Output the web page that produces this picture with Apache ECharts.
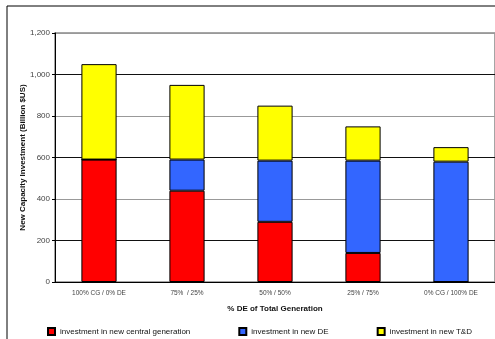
<!DOCTYPE html>
<html>
<head>
<meta charset="utf-8">
<script src="https://cdn.jsdelivr.net/npm/echarts@6/dist/echarts.min.js"></script>
<style>
  html, body { margin: 0; padding: 0; background: #fff; }
  #chart { width: 495px; height: 339px; }
</style>
</head>
<body>
<div id="chart"></div>
<script>
// 分类与数据
const categories = ['100% CG / 0% DE', '75%  / 25%', '50% / 50%', '25% / 75%', '0% CG / 100% DE']
const centralGen = [590, 440, 290, 140, 0]
const newDE = [0, 150, 295, 445, 580]
const newTD = [460, 360, 265, 165, 70]
const seriesNames = ['investment in new central generation', 'investment in new DE', 'investment in new T&D']
const colors = ['#ff0000', '#3366ff', '#ffff00']

const myChart = echarts.init(document.getElementById('chart'))

const barStyle = color => ({ color: color, borderColor: '#000', borderWidth: 1 })

myChart.setOption({
  animation: false,
  textStyle: { fontFamily: 'Liberation Sans, Arial, sans-serif' },
  graphic: [{
    type: 'rect',
    shape: { x: 7, y: 6, width: 500, height: 350 },
    style: { fill: 'none', stroke: '#000', lineWidth: 1 },
    silent: true
  }],
  grid: { left: 55, right: -2, top: 33, bottom: 57, show: true, borderColor: '#888', borderWidth: 1.5 },
  legend: {
    left: 42,
    bottom: -2,
    itemWidth: 7,
    itemHeight: 7,
    itemGap: 48,
    icon: 'rect',
    textStyle: { fontSize: 8, color: '#111' },
    data: seriesNames
  },
  xAxis: {
    type: 'category',
    data: categories,
    name: '% DE of Total Generation',
    nameLocation: 'middle',
    nameGap: 23,
    nameTextStyle: { fontSize: 8, fontWeight: 'bold', color: '#111' },
    axisLine: { lineStyle: { color: '#000', width: 1 } },
    axisTick: { length: 3, lineStyle: { color: '#000' } },
    axisLabel: { fontSize: 6.5, color: '#444', margin: 8 }
  },
  yAxis: {
    type: 'value',
    min: 0,
    max: 1200,
    interval: 200,
    name: 'New Capacity Investment (Billion $US)',
    nameLocation: 'middle',
    nameGap: 28,
    nameMoveOverlap: false,
    nameTextStyle: { fontSize: 8, fontWeight: 'bold', color: '#111' },
    axisLine: { show: true, lineStyle: { color: '#000', width: 1 } },
    axisTick: { show: true, length: 3, lineStyle: { color: '#000' } },
    axisLabel: {
      fontSize: 8,
      color: '#444',
      margin: 5,
      formatter: v => v.toLocaleString('en-US')
    },
    splitLine: { lineStyle: { color: ['#999', '#111'], width: 1 } }
  },
  series: [
    { name: seriesNames[0], type: 'bar', stack: 'total', barWidth: '40%', data: centralGen, itemStyle: barStyle(colors[0]) },
    { name: seriesNames[1], type: 'bar', stack: 'total', barWidth: '40%', data: newDE, itemStyle: barStyle(colors[1]) },
    { name: seriesNames[2], type: 'bar', stack: 'total', barWidth: '40%', data: newTD, itemStyle: barStyle(colors[2]) }
  ]
})
</script>
</body>
</html>
